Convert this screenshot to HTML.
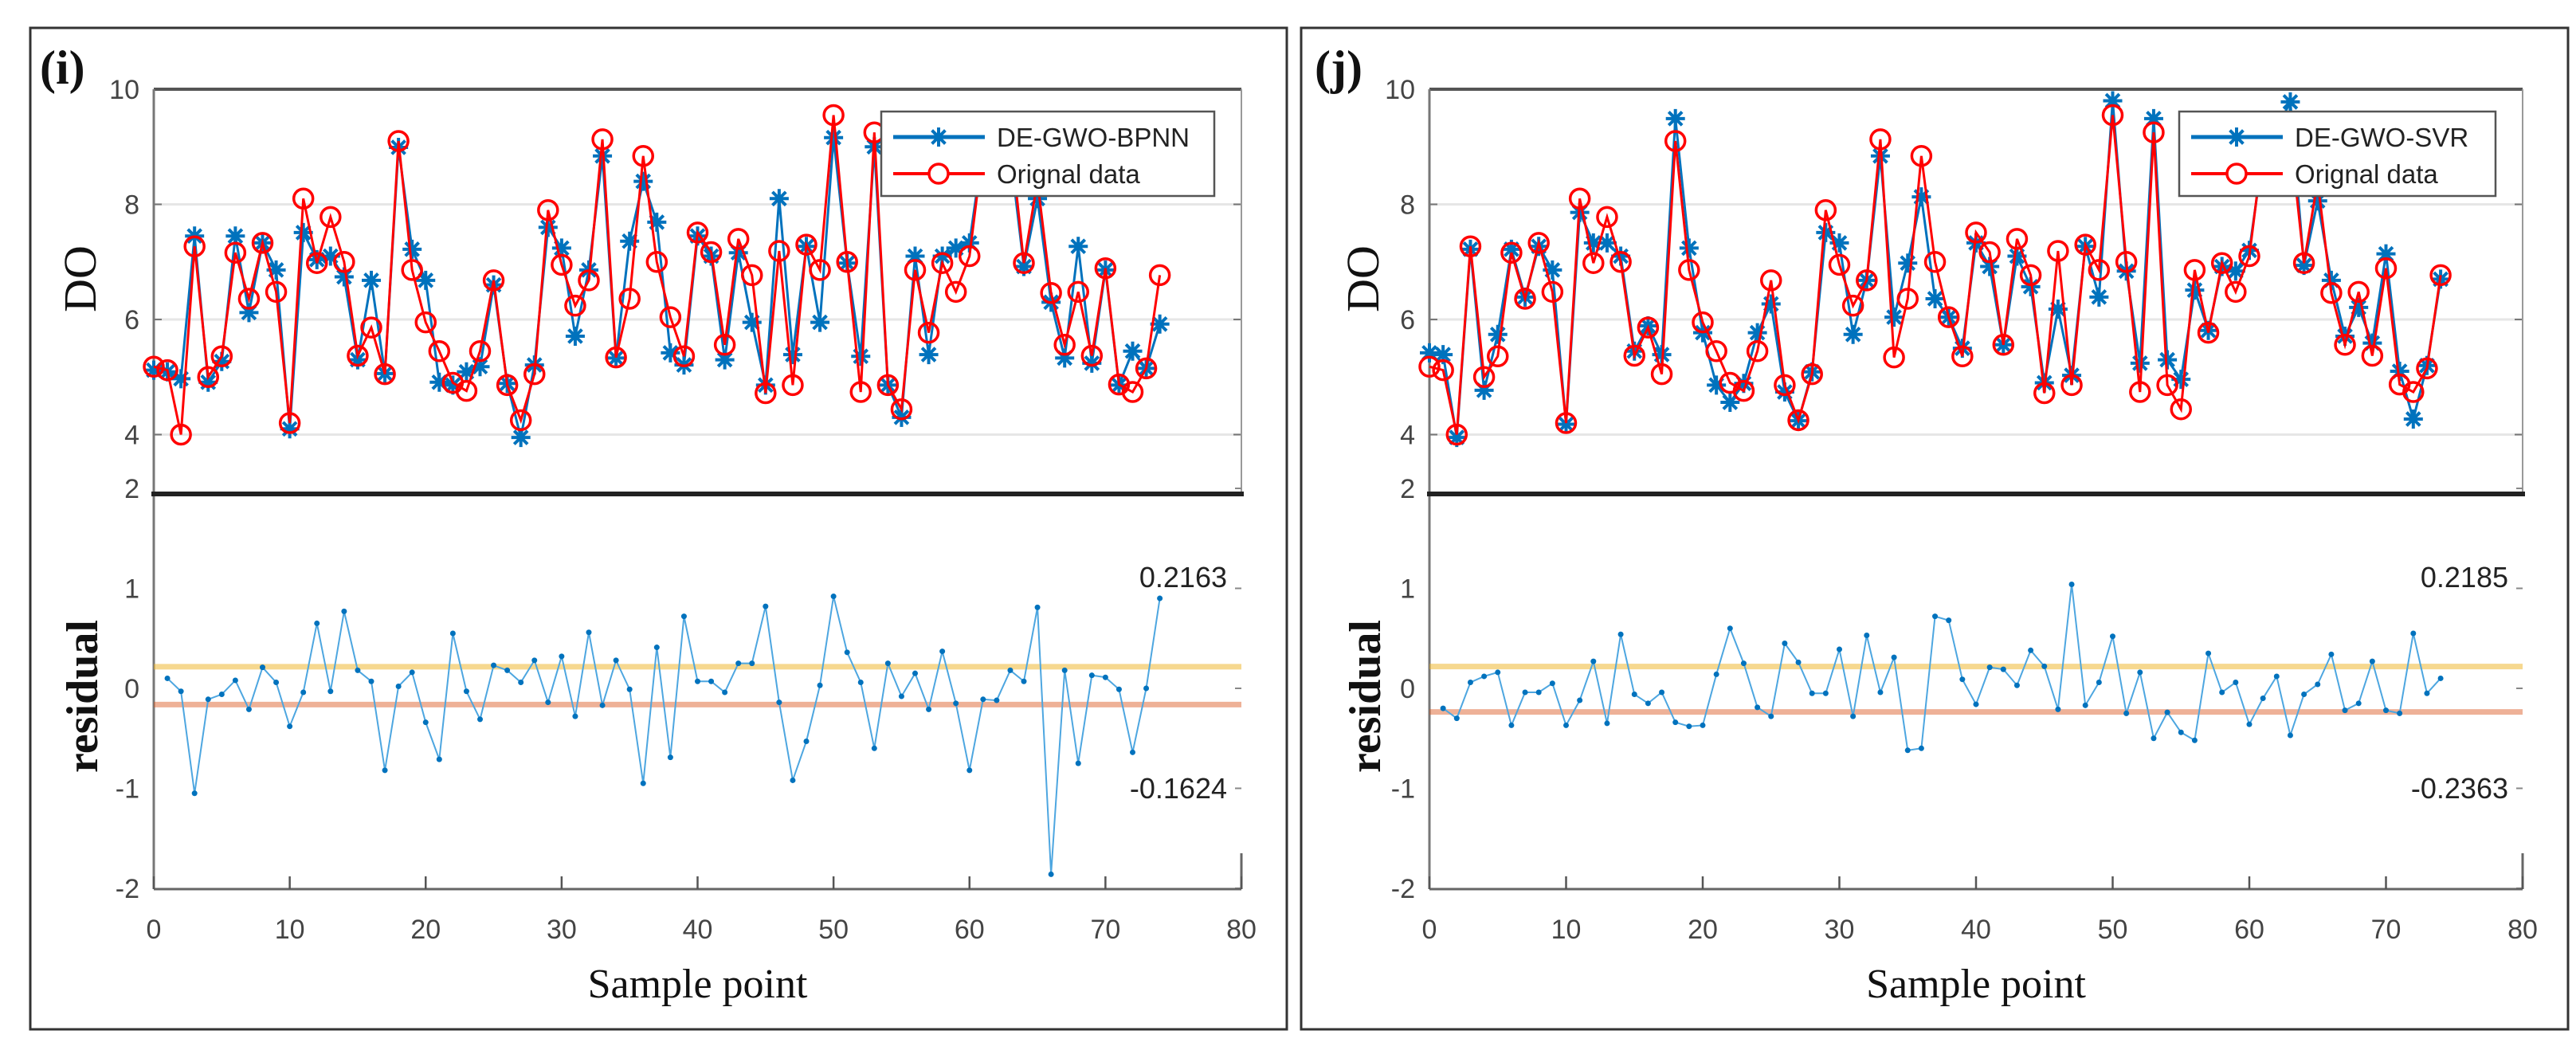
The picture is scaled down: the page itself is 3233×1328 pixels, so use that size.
<!DOCTYPE html>
<html><head><meta charset="utf-8"><style>
html,body{margin:0;padding:0;background:#fff;}
svg{display:block;}
</style></head><body>
<svg id="fig" width="3233" height="1328" viewBox="0 0 3233 1328" xmlns="http://www.w3.org/2000/svg"></svg>
<script>
const origDO=[5.18,5.12,4.0,7.27,5.0,5.36,7.16,6.36,7.33,6.48,4.2,8.1,6.98,7.78,7.0,5.37,5.86,5.05,9.1,6.86,5.95,5.45,4.9,4.76,5.45,6.68,4.86,4.25,5.05,7.9,6.95,6.24,6.68,9.13,5.34,6.36,8.84,7.0,6.04,5.36,7.51,7.17,5.56,7.4,6.77,4.72,7.19,4.86,7.3,6.86,9.55,7.0,4.74,9.25,4.86,4.44,6.86,5.77,6.98,6.48,7.1,9.0,9.3,9.2,6.98,8.4,6.46,5.56,6.48,5.37,6.89,4.87,4.74,5.15,6.77];
const predBPNN=[5.12,5.09,4.97,7.45,4.91,5.27,7.45,6.12,7.33,6.86,4.1,7.51,7.04,7.1,6.74,5.3,6.68,5.06,8.99,7.22,6.68,4.91,4.86,5.09,5.18,6.6,4.89,3.95,5.21,7.6,7.24,5.71,6.86,8.84,5.33,7.36,8.4,7.69,5.42,5.21,7.45,7.1,5.3,7.16,5.95,4.86,8.1,5.39,7.27,5.95,9.16,6.98,5.36,9.0,4.86,4.3,7.1,5.39,7.1,7.24,7.33,9.0,9.2,8.9,6.92,8.1,6.3,5.33,7.27,5.24,6.86,4.86,5.45,5.15,5.92];
const predSVR=[5.42,5.39,3.95,7.22,4.77,5.74,7.22,6.39,7.27,6.86,4.18,7.86,7.33,7.33,7.1,5.45,5.89,5.39,9.49,7.24,5.77,4.86,4.56,4.89,5.77,6.27,4.74,4.24,5.09,7.51,7.33,5.74,6.68,8.84,6.04,6.98,8.13,6.36,6.04,5.5,7.33,6.92,5.56,7.1,6.57,4.9,6.18,5.03,7.27,6.39,9.8,6.84,5.24,9.49,5.3,4.96,6.51,5.81,6.92,6.84,7.2,8.88,9.3,9.78,6.94,8.06,6.68,5.71,6.21,5.59,7.14,5.1,4.27,5.2,6.7];
const residBPNN=[0.10,-0.03,-1.05,-0.11,-0.06,0.08,-0.21,0.21,0.06,-0.38,-0.04,0.65,-0.03,0.77,0.18,0.07,-0.82,0.02,0.16,-0.34,-0.71,0.55,-0.03,-0.31,0.23,0.18,0.06,0.28,-0.14,0.32,-0.28,0.56,-0.17,0.28,-0.01,-0.95,0.41,-0.69,0.72,0.07,0.07,-0.04,0.25,0.25,0.82,-0.14,-0.92,-0.53,0.03,0.92,0.36,0.06,-0.60,0.25,-0.08,0.15,-0.21,0.37,-0.15,-0.82,-0.11,-0.12,0.18,0.07,0.81,-1.86,0.18,-0.75,0.13,0.11,-0.01,-0.64,0.0,0.90];
const residSVR=[-0.20,-0.30,0.06,0.12,0.16,-0.37,-0.04,-0.04,0.05,-0.37,-0.12,0.27,-0.35,0.54,-0.06,-0.15,-0.04,-0.34,-0.38,-0.37,0.14,0.60,0.25,-0.19,-0.28,0.45,0.26,-0.05,-0.05,0.39,-0.28,0.53,-0.04,0.31,-0.62,-0.60,0.72,0.68,0.09,-0.16,0.21,0.19,0.03,0.38,0.22,-0.21,1.04,-0.17,0.06,0.52,-0.25,0.16,-0.50,-0.24,-0.44,-0.52,0.35,-0.04,0.06,-0.36,-0.10,0.12,-0.47,-0.06,0.04,0.34,-0.22,-0.15,0.27,-0.22,-0.25,0.55,-0.05,0.10];
const xTicks=[0,10,20,30,40,50,60,70,80];
const doTicks=[4,6,8,10];
const resTicks=[-2,-1,0,1,2];
const bandsBPNN=[0.2163,-0.1624];
const bandsSVR=[0.2185,-0.2363];

const NS="http://www.w3.org/2000/svg";
const svg=document.getElementById('fig');
function mk(tag,attrs,parent){const e=document.createElementNS(NS,tag);for(const k in attrs)e.setAttribute(k,attrs[k]);(parent||svg).appendChild(e);return e;}
const TOP_Y10=112, TOP_UNIT=72.25, TOP_BOT=620;
const RES_Y0=864, RES_UNIT=125.5, RES_BOT=1116;
function yTop(v){return TOP_Y10+(10-v)*TOP_UNIT;}
function yRes(v){return RES_Y0-v*RES_UNIT;}
function starPath(x,y,s){return `M${x-s},${y}L${x+s},${y}M${x},${y-s}L${x},${y+s}M${x-s*0.7},${y-s*0.7}L${x+s*0.7},${y+s*0.7}M${x-s*0.7},${y+s*0.7}L${x+s*0.7},${y-s*0.7}`;}

function panel(cfg,pred,resid,bands,modelName){
  const g=mk('g',{});
  
  
  const px=v=>cfg.x0+v*(cfg.x1-cfg.x0)/80;
  const frame=mk('rect',{x:cfg.bx,y:35,width:cfg.bw,height:1257,fill:'none',stroke:'#333','stroke-width':3},g);
  
  
  const tl=mk('text',{x:cfg.tx,y:105,'font-family':'Liberation Serif, serif','font-size':60,'font-weight':'bold',fill:'#111'},g);
  tl.textContent=cfg.title;
  
  
  doTicks.forEach(t=>{
    const gl=mk('line',{x1:cfg.x0,x2:cfg.x1,y1:yTop(t),y2:yTop(t),stroke:'#e6e6e6','stroke-width':3},g);
    
    
    const tk=mk('text',{x:cfg.x0-18,y:yTop(t)+12,'text-anchor':'end','font-family':'Liberation Sans, sans-serif','font-size':34,fill:'#444'},g);
    tk.textContent=t;
    
    
    mk('line',{x1:cfg.x0,x2:cfg.x0+10,y1:yTop(t),y2:yTop(t),stroke:'#777','stroke-width':2},g);
    mk('line',{x1:cfg.x1-10,x2:cfg.x1,y1:yTop(t),y2:yTop(t),stroke:'#777','stroke-width':2},g);
  });
  mk('line',{x1:cfg.x0,x2:cfg.x1,y1:TOP_Y10,y2:TOP_Y10,stroke:'#555','stroke-width':4},g);
  mk('line',{x1:cfg.x0,x2:cfg.x0,y1:TOP_Y10,y2:RES_BOT,stroke:'#777','stroke-width':3},g);
  mk('line',{x1:cfg.x1,x2:cfg.x1,y1:TOP_Y10,y2:TOP_BOT,stroke:'#999','stroke-width':2},g);
  const dol=mk('text',{x:0,y:0,'text-anchor':'middle','font-family':'Liberation Serif, serif','font-size':58,fill:'#111',transform:`translate(${cfg.ylx},350) rotate(-90)`},g);
  dol.textContent='DO';
  
  
  let d='';pred.forEach((v,i)=>{d+=(i?'L':'M')+px(i)+','+yTop(v);});
  const pl=mk('path',{d:d,fill:'none',stroke:'#0072BD','stroke-width':3},g);
  
  
  pred.forEach((v,i)=>{
    const s=mk('path',{d:starPath(px(i),yTop(v),12),stroke:'#0072BD','stroke-width':4,fill:'none'},g);
    
    
  });
  d='';origDO.forEach((v,i)=>{d+=(i?'L':'M')+px(i)+','+yTop(v);});
  const ol=mk('path',{d:d,fill:'none',stroke:'#ff0000','stroke-width':3},g);
  
  
  origDO.forEach((v,i)=>{
    const c=mk('circle',{cx:px(i),cy:yTop(v),r:12,fill:'none',stroke:'#ff0000','stroke-width':3.5},g);
    
    
  });
  const lg=mk('g',{},g);
  
  
  mk('rect',{x:cfg.lx,y:140,width:cfg.lw,height:106,fill:'#fff',stroke:'#555','stroke-width':2.5},lg);
  const l1=mk('g',{},lg);
  
  
  mk('line',{x1:cfg.lx+15,x2:cfg.lx+130,y1:172,y2:172,stroke:'#0072BD','stroke-width':5},l1);
  mk('path',{d:starPath(cfg.lx+72,172,12),stroke:'#0072BD','stroke-width':4},l1);
  const t1=mk('text',{x:cfg.lx+145,y:184,'font-family':'Liberation Sans, sans-serif','font-size':33,fill:'#222'},l1);
  t1.textContent=modelName;
  const l2=mk('g',{},lg);
  
  
  mk('line',{x1:cfg.lx+15,x2:cfg.lx+130,y1:218,y2:218,stroke:'#ff0000','stroke-width':4},l2);
  mk('circle',{cx:cfg.lx+72,cy:218,r:12,fill:'#fff',stroke:'#ff0000','stroke-width':3.5},l2);
  const t2=mk('text',{x:cfg.lx+145,y:230,'font-family':'Liberation Sans, sans-serif','font-size':33,fill:'#222'},l2);
  t2.textContent='Orignal data';
  resTicks.forEach(t=>{
    const tk=mk('text',{x:cfg.x0-18,y:yRes(t)+12,'text-anchor':'end','font-family':'Liberation Sans, sans-serif','font-size':34,fill:'#444'},g);
    tk.textContent=t;
    
    
    mk('line',{x1:cfg.x1-8,x2:cfg.x1,y1:yRes(t),y2:yRes(t),stroke:'#888','stroke-width':2},g);
  });
  mk('line',{x1:cfg.x0,x2:cfg.x1,y1:RES_BOT,y2:RES_BOT,stroke:'#666','stroke-width':3},g);
  mk('line',{x1:cfg.x1,x2:cfg.x1,y1:RES_BOT-45,y2:RES_BOT,stroke:'#666','stroke-width':3},g);
  xTicks.forEach(t=>{
    mk('line',{x1:px(t),x2:px(t),y1:RES_BOT,y2:RES_BOT-16,stroke:'#555','stroke-width':2.5},g);
    const tk=mk('text',{x:px(t),y:1178,'text-anchor':'middle','font-family':'Liberation Sans, sans-serif','font-size':34,fill:'#444'},g);
    tk.textContent=t;
    
    
  });
  mk('line',{x1:cfg.x0-3,x2:cfg.x1+3,y1:TOP_BOT,y2:TOP_BOT,stroke:'#222','stroke-width':6},g);
  const bcol=['rgba(237,177,32,0.5)','rgba(217,83,25,0.45)'];
  bands.forEach((b,i)=>{
    const bl=mk('line',{x1:cfg.x0,x2:cfg.x1,y1:yRes(b),y2:yRes(b),stroke:bcol[i],'stroke-width':7},g);
    
    
  });
  const bt1=mk('text',{x:cfg.x1-18,y:737,'text-anchor':'end','font-family':'Liberation Sans, sans-serif','font-size':36,fill:'#222'},g);
  bt1.textContent=bands[0].toFixed(4);
  
  
  const bt2=mk('text',{x:cfg.x1-18,y:1002,'text-anchor':'end','font-family':'Liberation Sans, sans-serif','font-size':36,fill:'#222'},g);
  bt2.textContent=bands[1].toFixed(4);
  
  
  d='';resid.forEach((v,i)=>{d+=(i?'L':'M')+px(i+1)+','+yRes(v);});
  const rl=mk('path',{d:d,fill:'none',stroke:'#4DA6E0','stroke-width':2},g);
  
  
  resid.forEach((v,i)=>{
    const c=mk('circle',{cx:px(i+1),cy:yRes(v),r:3.5,fill:'#0072BD'},g);
    
    
  });
  const rt=mk('text',{x:0,y:0,'text-anchor':'middle','font-family':'Liberation Serif, serif','font-size':56,'font-weight':'bold',fill:'#111',transform:`translate(${cfg.ylx+2},874) rotate(-90)`},g);
  rt.textContent='residual';
  
  
  const xt=mk('text',{x:(cfg.x0+cfg.x1)/2,y:1252,'text-anchor':'middle','font-family':'Liberation Serif, serif','font-size':52,fill:'#111'},g);
  xt.textContent='Sample point';
  
  
}
panel({key:'bpnn',bx:38,bw:1577,x0:193,x1:1558,title:'(i)',tx:50,ylx:120,lx:1106,lw:418},predBPNN,residBPNN,bandsBPNN,'DE-GWO-BPNN');
panel({key:'svr',bx:1633,bw:1590,x0:1794,x1:3166,title:'(j)',tx:1650,ylx:1730,lx:2735,lw:397},predSVR,residSVR,bandsSVR,'DE-GWO-SVR');
</script>
</body></html>
